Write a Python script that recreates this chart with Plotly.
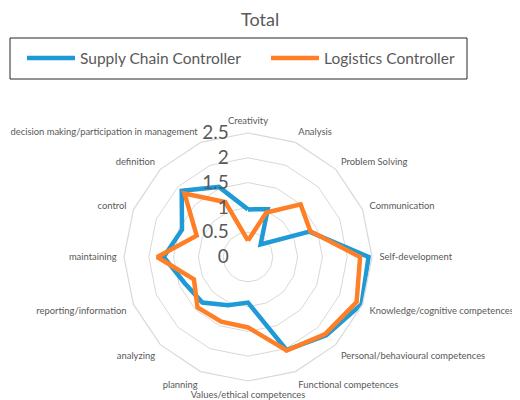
import plotly.graph_objects as go

categories = ['Creativity', 'Analysis', 'Problem Solving', 'Communication',
              'Self-development', 'Knowledge/cognitive competences',
              'Personal/behavioural competences', 'Functional competences',
              'Values/ethical competences', 'planning', 'analyzing',
              'reporting/information', 'maintaining', 'control', 'definition',
              'decision making/participation in management']

supply_chain = [0.96, 1.04, 0.36, 1.34, 2.43, 2.48, 2.23, 2.03,
                0.92, 1.05, 1.30, 1.38, 1.70, 1.44, 1.89, 1.53]
logistics = [0.33, 0.97, 1.50, 1.36, 2.26, 2.37, 2.20, 2.04,
             1.42, 1.41, 1.44, 1.18, 1.83, 1.12, 1.81, 1.20]

radial_ticks = [0, 0.5, 1, 1.5, 2, 2.5]

FONT = 'Lato'
GREY = '#595959'

# page body has an 8px margin, so the figure is 8px smaller each way
W, H = 512, 392

def closed(vals):
    return vals + vals[:1]

fig = go.Figure()
fig.add_trace(go.Scatterpolar(r=closed(supply_chain), theta=closed(categories),
                              mode='lines', name='Supply Chain Controller',
                              line=dict(color='#1E9AD6', width=4.5)))
fig.add_trace(go.Scatterpolar(r=closed(logistics), theta=closed(categories),
                              mode='lines', name='Logistics Controller',
                              line=dict(color='#FF7F27', width=4.5)))

# polar centre / outer ring radius in figure pixels
cx, cy, rad = 240, 249, 124

fig.update_layout(
    width=W, height=H,
    margin=dict(l=0, r=0, t=0, b=0, autoexpand=False),
    paper_bgcolor='white',
    font=dict(family=FONT, color=GREY),
    annotations=[dict(text='Total', xref='paper', yref='paper', x=252/W, y=1-11/H,
                      xanchor='center', yanchor='middle', showarrow=False,
                      font=dict(size=18, color=GREY, family=FONT))],
    showlegend=True,
    legend=dict(orientation='h', x=14/W, xanchor='left', y=1-50.5/H, yanchor='middle',
                font=dict(size=15.5, color=GREY, family=FONT),
                bgcolor='rgba(0,0,0,0)', itemwidth=48, entrywidthmode='pixels',
                entrywidth=181),
    shapes=[dict(type='rect', xref='paper', yref='paper',
                 x0=2/W, x1=459/W, y0=1-71/H, y1=1-30/H,
                 line=dict(color='#262626', width=1))],
    polar=dict(
        domain=dict(x=[(cx-rad)/W, (cx+rad)/W],
                    y=[(H-cy-rad)/H, (H-cy+rad)/H]),
        bgcolor='white',
        gridshape='linear',
        radialaxis=dict(range=[0, 2.5], tickvals=radial_ticks,
                        ticktext=[f'{v:g}' for v in radial_ticks],
                        angle=90, tickangle=90, side='counterclockwise',
                        showline=False, ticks='outside', ticklen=12,
                        tickcolor='rgba(0,0,0,0)', gridcolor='#D9D9D9',
                        gridwidth=1.2,
                        tickfont=dict(size=19, color=GREY, family=FONT)),
        angularaxis=dict(direction='clockwise', rotation=90, showgrid=False,
                         linecolor='#D9D9D9', linewidth=1.2,
                         ticks='outside', ticklen=5, tickcolor='rgba(0,0,0,0)',
                         tickfont=dict(size=9.4, color=GREY, family=FONT)),
    ),
)

fig.write_html("out.html")
